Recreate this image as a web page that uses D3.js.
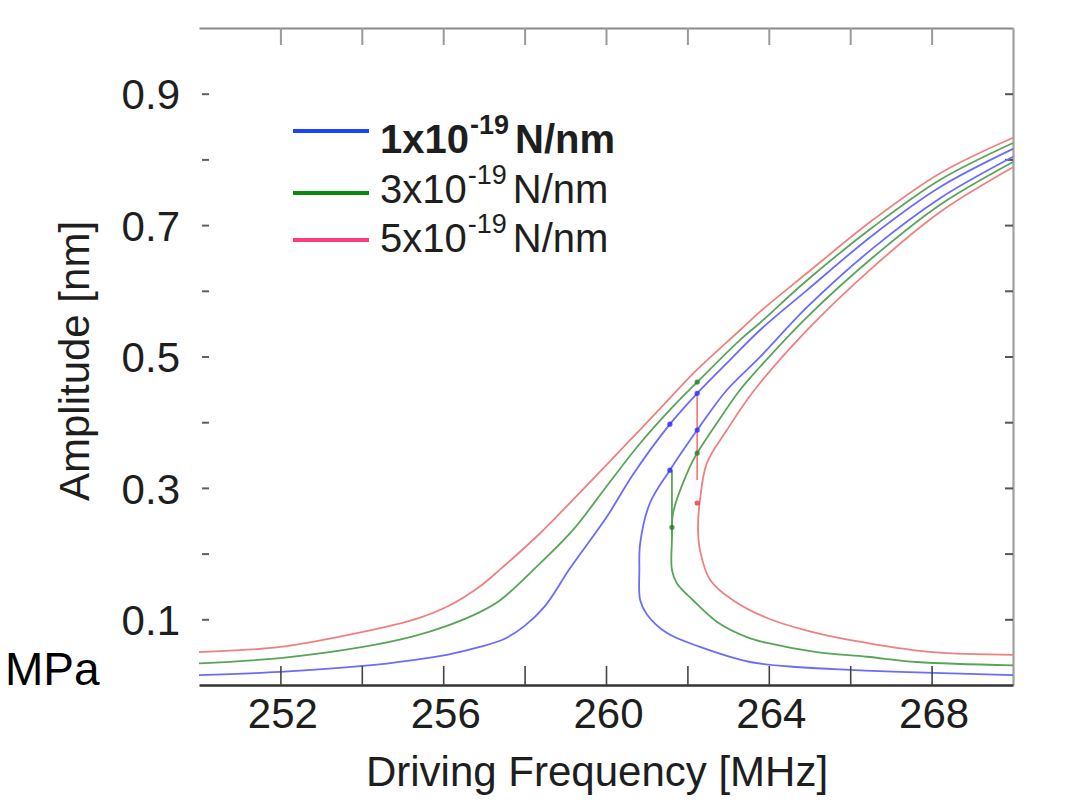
<!DOCTYPE html>
<html>
<head>
<meta charset="utf-8">
<script src="https://cdn.jsdelivr.net/npm/d3@7"></script>
<style>
  html, body { margin: 0; padding: 0; background: #fff; }
  svg { display: block; }
  text { font-family: "Liberation Sans", Arial, sans-serif; fill: #1e1e1e; }
</style>
</head>
<body>
<svg id="chart" width="1070" height="803"></svg>
<script>
// ---- data ----
const xTicks = [252, 254, 256, 258, 260, 262, 264, 266, 268];
const xLabelTicks = [252, 256, 260, 264, 268];
const yTicks = [0.1, 0.2, 0.3, 0.4, 0.5, 0.6, 0.7, 0.8, 0.9];
const yLabelTicks = [0.1, 0.3, 0.5, 0.7, 0.9];

const seriesNames = ["1", "3", "5"];
const seriesExponent = "-19";
const seriesUnit = "N/nm";

// 1x10^-19 N/nm (blue)
const blueUpper = [[250.0,0.015],[251.99,0.020],[254.03,0.029],[255.26,0.038],[256.09,0.046],[256.90,0.058],[257.50,0.070],[258.00,0.090],[258.50,0.120],[259.12,0.178],[260.02,0.256],[260.66,0.320],[261.57,0.397],[262.24,0.444],[263.05,0.495],[263.78,0.540],[264.94,0.601],[266.56,0.685],[268.21,0.758],[270.0,0.816]];
const blueLower = [[270.0,0.804],[268.21,0.741],[266.56,0.665],[264.94,0.575],[263.78,0.499],[262.97,0.449],[262.24,0.388],[261.57,0.327],[261.08,0.277],[260.84,0.216],[260.82,0.175],[260.84,0.129],[261.01,0.107],[261.50,0.079],[262.31,0.058],[263.54,0.035],[264.77,0.027],[265.99,0.023],[267.22,0.020],[270.0,0.015]];

// 3x10^-19 N/nm (green)
const greenUpper = [[250.0,0.033],[251.99,0.041],[254.03,0.058],[255.26,0.074],[256.09,0.090],[256.90,0.111],[257.40,0.129],[258.21,0.175],[259.19,0.236],[260.02,0.303],[260.84,0.368],[261.65,0.424],[262.24,0.461],[263.29,0.525],[263.78,0.551],[264.94,0.616],[266.56,0.697],[268.21,0.769],[270.0,0.825]];
const greenLower = [[270.0,0.796],[268.21,0.731],[266.56,0.651],[264.94,0.560],[263.78,0.484],[263.29,0.449],[262.73,0.399],[262.24,0.353],[262.06,0.332],[261.65,0.262],[261.62,0.221],[261.62,0.175],[261.74,0.155],[262.14,0.129],[262.73,0.096],[263.46,0.073],[263.96,0.064],[265.18,0.050],[266.41,0.043],[267.64,0.035],[270.0,0.030]];

// 5x10^-19 N/nm (red)
const redUpper = [[250.0,0.050],[251.99,0.058],[254.03,0.081],[255.26,0.099],[256.09,0.119],[256.90,0.150],[257.40,0.176],[258.38,0.231],[259.53,0.304],[260.52,0.368],[261.50,0.432],[262.14,0.474],[263.29,0.540],[263.78,0.568],[264.94,0.627],[266.56,0.708],[268.21,0.779],[270.0,0.833]];
const redLower = [[270.0,0.788],[268.21,0.720],[266.56,0.636],[264.94,0.540],[263.61,0.446],[262.97,0.388],[262.48,0.338],[262.31,0.282],[262.26,0.240],[262.31,0.205],[262.56,0.160],[263.12,0.129],[263.96,0.102],[265.18,0.079],[266.41,0.064],[268.03,0.050],[270.0,0.046]];

// jump segments (frequency, amplitude from, amplitude to)
const redJump = [[262.24,0.312],[262.24,0.445]];
const greenJump = [[261.62,0.225],[261.62,0.327]];

// sample markers on branches
const blueMarks = [[261.57,0.397],[261.57,0.327],[262.24,0.444],[262.24,0.388]];
const greenMarks = [[262.24,0.461],[262.24,0.353],[261.62,0.240]];
const redMarks = [[262.24,0.277]];

// ---- drawing ----
const svg = d3.select("#chart");
const x = d3.scaleLinear().domain([250, 270]).range([199, 1013]);
const y = d3.scaleLinear().domain([0, 1]).range([685, 28]);

const curveCol = { blue: "#6b6bff", green: "#58a558", red: "#f08080" };
const markCol = { blue: "#2a2aff", green: "#1f7f1f", red: "#e03a3a" };
const legendCol = ["#1a44ff", "#0a8a0a", "#ff3a78"];

// top axis (ticks only)
const topAx = svg.append("g").attr("transform", `translate(0,${y(1)})`)
  .call(d3.axisTop(x).tickValues(xTicks).tickSize(-17).tickSizeOuter(0).tickFormat(""));
topAx.select(".domain").attr("stroke", "#8a8a8a").attr("stroke-width", 2.2);
topAx.selectAll(".tick line").attr("stroke", "#9a9a9a").attr("stroke-width", 2);

// right axis (ticks only)
const rightAx = svg.append("g").attr("transform", `translate(${x(270)},0)`)
  .call(d3.axisRight(y).tickValues(yTicks).tickSize(-8).tickSizeOuter(0).tickFormat(""));
rightAx.select(".domain").attr("stroke", "#a0a0a0").attr("stroke-width", 2.2);
rightAx.selectAll(".tick line").attr("stroke", "#555").attr("stroke-width", 2);

// left axis: no line, short ticks, labels on odd tenths
const leftAx = svg.append("g").attr("transform", `translate(${x(250) + 3},0)`)
  .call(d3.axisLeft(y).tickValues(yTicks).tickSize(-7).tickPadding(22)
    .tickFormat(d => yLabelTicks.some(v => Math.abs(v - d) < 1e-9) ? d3.format(".1f")(d) : ""));
leftAx.select(".domain").remove();
leftAx.selectAll(".tick line").attr("stroke", "#606060").attr("stroke-width", 2);
leftAx.selectAll(".tick text").attr("font-size", 42).attr("dy", "0.36em")
  .attr("font-family", "'Liberation Sans', Arial, sans-serif").attr("fill", "#1e1e1e");

// curves
const line = d3.line().x(d => x(d[0])).y(d => y(d[1])).curve(d3.curveCatmullRom.alpha(0.5));
const plot = svg.append("g");
const branches = [
  [blueUpper, "blue"], [blueLower, "blue"],
  [greenUpper, "green"], [greenLower, "green"],
  [redUpper, "red"], [redLower, "red"]
];
branches.forEach(([data, c]) => {
  plot.append("path").datum(data).attr("d", line)
    .attr("fill", "none").attr("stroke", curveCol[c]).attr("stroke-width", 1.8);
});
const straight = d3.line().x(d => x(d[0])).y(d => y(d[1]));
[[redJump, "red"], [greenJump, "green"]].forEach(([data, c]) => {
  plot.append("path").datum(data).attr("d", straight)
    .attr("fill", "none").attr("stroke", curveCol[c]).attr("stroke-width", 1.8);
});
[[blueMarks, "blue"], [greenMarks, "green"], [redMarks, "red"]].forEach(([data, c]) => {
  plot.selectAll(null).data(data).enter().append("circle")
    .attr("cx", d => x(d[0])).attr("cy", d => y(d[1])).attr("r", 2.6)
    .attr("fill", markCol[c]).attr("opacity", 0.8);
});

// bottom axis
const botAx = svg.append("g").attr("transform", `translate(0,${y(0)})`)
  .call(d3.axisBottom(x).tickValues(xTicks).tickSize(-19).tickSizeOuter(0)
    .tickFormat(d => xLabelTicks.includes(d) ? String(d) : ""));
botAx.select(".domain").attr("stroke", "#333").attr("stroke-width", 2.6);
botAx.selectAll(".tick line").attr("stroke", "#444").attr("stroke-width", 1.6);
botAx.selectAll(".tick text").attr("font-size", 42).attr("y", 43).attr("dy", 0).attr("dx", 2)
  .attr("font-family", "'Liberation Sans', Arial, sans-serif").attr("fill", "#1e1e1e");

// axis titles
svg.append("text").attr("x", 597).attr("y", 786).attr("text-anchor", "middle")
  .attr("font-size", 42).text("Driving Frequency [MHz]");
svg.append("text").attr("transform", "translate(89,361) rotate(-90)").attr("text-anchor", "middle")
  .attr("font-size", 42).text("Amplitude [nm]");

// MPa annotation
svg.append("text").attr("x", 5).attr("y", 685)
  .attr("font-family", "'Noto Sans', 'Open Sans', sans-serif").attr("font-size", 46)
  .attr("fill", "#000").style("fill", "#000").text("MPa");

// legend
const legLineY = [131, 193, 240];
const legTextY = [153, 203, 252];
seriesNames.forEach((n, i) => {
  svg.append("line").attr("x1", 293).attr("x2", 369).attr("y1", legLineY[i]).attr("y2", legLineY[i])
    .attr("stroke", legendCol[i]).attr("stroke-width", 4);
  const t = svg.append("text").attr("x", 380).attr("y", legTextY[i]).attr("font-size", 40)
    .attr("font-weight", i === 0 ? "bold" : "normal");
  t.append("tspan").text(n + "x10");
  t.append("tspan").attr("font-size", 27).attr("dy", -19).attr("dx", 1).text(seriesExponent);
  t.append("tspan").attr("dy", 19).attr("dx", 6).text(seriesUnit);
});
</script>
</body>
</html>
